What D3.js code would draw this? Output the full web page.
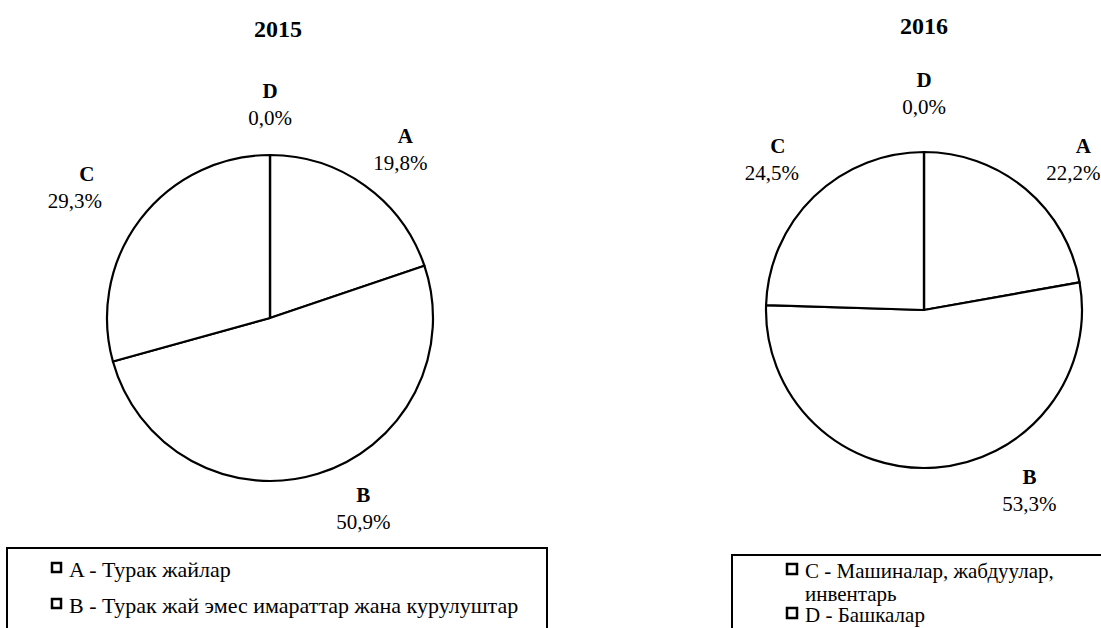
<!DOCTYPE html>
<html>
<head>
<meta charset="utf-8">
<script src="https://cdn.jsdelivr.net/npm/d3@7"></script>
<style>
  body { margin: 0; background: #fff; }
</style>
</head>
<body>
<div class="chart"></div>
<script>
// data
var categories = ["A", "B", "C", "D"];
var years = ["2015", "2016"];
var values2015 = [19.8, 50.9, 29.3, 0.0];
var values2016 = [22.2, 53.3, 24.5, 0.0];
var legendLeft = ["A - Турак жайлар", "B - Турак жай эмес имараттар жана курулуштар"];
var legendRight = [["C - Машиналар, жабдуулар,", "инвентарь"], ["D - Башкалар"]];

var svgWidth = 1101;
var svgHeight = 628;
var serif = "Liberation Serif";

var svg = d3.select(".chart")
  .append("svg")
  .attr("width", svgWidth)
  .attr("height", svgHeight)
  .attr("font-family", serif);

// layout for each pie; nudge = [dx, dy, letter dx] on top of the label arc centroid
var pies = [
  { year: years[0], values: values2015, cx: 270, cy: 318, r: 163, titleX: 278, titleY: 37, labelR: 205,
    nudge: [[11, -8, 5], [33, -12, 0], [-32, -13, 12], [0, -15, 0]] },
  { year: years[1], values: values2016, cx: 924, cy: 310, r: 158, titleX: 924, titleY: 34, labelR: 200,
    nudge: [[21, -4, 10], [91, -25, 0], [-13, -13, 6], [0, -23, 0]] }
];

var pie = d3.pie().sort(null).value(d => d.value);
var fmt = v => v.toFixed(1).replace(".", ",") + "%";

pies.forEach(function(p) {
  var g = svg.append("g")
    .attr("transform", `translate(${p.cx}, ${p.cy})`);

  var rows = categories.map((c, i) => ({ cat: c, value: p.values[i] }));
  var arcs = pie(rows);

  var arc = d3.arc().innerRadius(0).outerRadius(p.r);
  var labelArc = d3.arc().innerRadius(p.labelR).outerRadius(p.labelR);

  g.selectAll("path.slice")
    .data(arcs)
    .enter()
    .append("path")
    .attr("class", "slice")
    .attr("d", arc)
    .attr("fill", "#fff")
    .attr("stroke", "#000")
    .attr("stroke-width", 2.2)
    .attr("stroke-linejoin", "round");

  var labels = g.selectAll("text.lbl")
    .data(arcs)
    .enter()
    .append("text")
    .attr("class", "lbl")
    .attr("text-anchor", "middle")
    .attr("font-size", "21px")
    .attr("transform", function(d, i) {
      var c = labelArc.centroid(d);
      return `translate(${c[0] + p.nudge[i][0]}, ${c[1] + p.nudge[i][1]})`;
    });

  labels.append("tspan")
    .attr("x", (d, i) => p.nudge[i][2])
    .attr("y", 0)
    .attr("font-weight", "bold")
    .text(d => d.data.cat);

  labels.append("tspan")
    .attr("x", 0)
    .attr("y", 27)
    .text(d => fmt(d.data.value));

  svg.append("text")
    .attr("x", p.titleX)
    .attr("y", p.titleY)
    .attr("text-anchor", "middle")
    .attr("font-size", "24px")
    .attr("font-weight", "bold")
    .text(p.year);
});

// left legend (runs off the bottom edge)
var legL = svg.append("g");
legL.append("rect")
  .attr("x", 7).attr("y", 548)
  .attr("width", 540).attr("height", 120)
  .attr("fill", "none").attr("stroke", "#000").attr("stroke-width", 2);

legendLeft.forEach(function(t, i) {
  var y = 577 + i * 36;
  legL.append("rect")
    .attr("x", 52).attr("y", y - 14)
    .attr("width", 9).attr("height", 9)
    .attr("fill", "#fff").attr("stroke", "#000").attr("stroke-width", 2.5);
  legL.append("text")
    .attr("x", 69).attr("y", y)
    .attr("font-size", "22px")
    .text(t);
});

// right legend (runs off the right and bottom edges)
var legR = svg.append("g");
legR.append("rect")
  .attr("x", 732).attr("y", 555)
  .attr("width", 420).attr("height", 120)
  .attr("fill", "none").attr("stroke", "#000").attr("stroke-width", 2);

var rowY = [578, 622];
legendRight.forEach(function(lines, i) {
  var y = rowY[i];
  legR.append("rect")
    .attr("x", 787).attr("y", y - 14)
    .attr("width", 10).attr("height", 10)
    .attr("fill", "#fff").attr("stroke", "#000").attr("stroke-width", 2.5);
  var t = legR.append("text")
    .attr("x", 805).attr("y", y)
    .attr("font-size", "21px");
  lines.forEach(function(l, j) {
    t.append("tspan")
      .attr("x", 805)
      .attr("y", y + j * 23)
      .text(l);
  });
});
</script>
</body>
</html>
